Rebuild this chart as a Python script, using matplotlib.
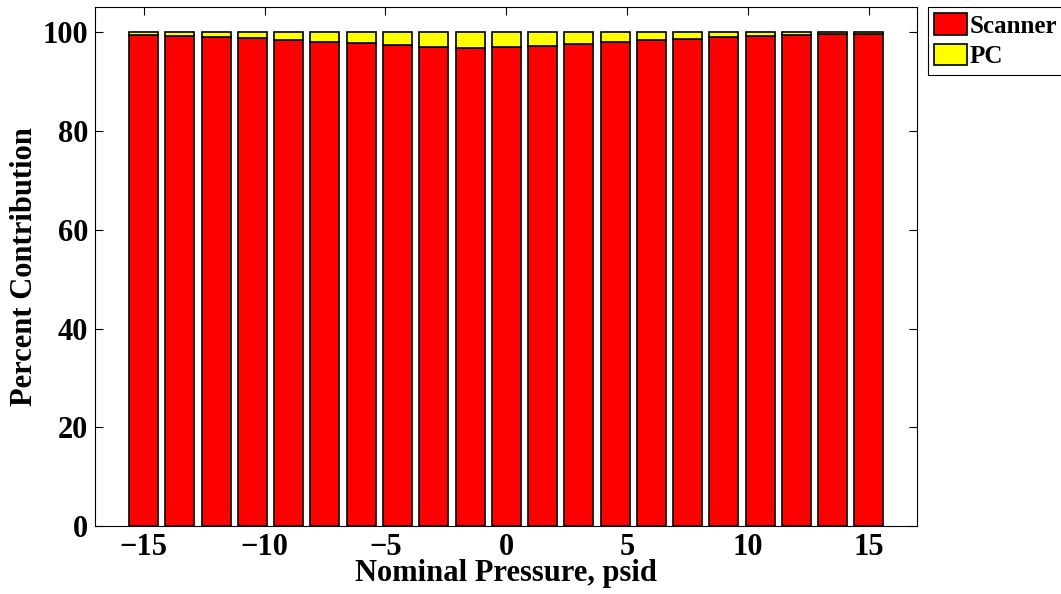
import matplotlib
matplotlib.use("Agg")
import matplotlib.pyplot as plt
import numpy as np

pressure = [-15, -13.5, -12, -10.5, -9, -7.5, -6, -4.5, -3, -1.5, 0,
            1.5, 3, 4.5, 6, 7.5, 9, 10.5, 12, 13.5, 15]
pc = [0.67, 0.81, 1.0, 1.28, 1.55, 1.96, 2.3, 2.7, 2.97, 3.17, 2.95,
      2.77, 2.36, 1.96, 1.62, 1.35, 1.08, 0.88, 0.6, 0.47, 0.34]
scanner = [100 - v for v in pc]
xticks = [-15, -10, -5, 0, 5, 10, 15]
yticks = [0, 20, 40, 60, 80, 100]

plt.rcParams['font.family'] = ['Liberation Serif', 'DejaVu Serif']
plt.rcParams['font.weight'] = 'bold'
plt.rcParams['mathtext.default'] = 'regular'

W, H = 1061, 594
fig = plt.figure(figsize=(W / 100, H / 100), dpi=100)
ax = fig.add_axes([95.3 / W, 1 - 526.3 / H, (917.3 - 95.3) / W, (526.3 - 7.3) / H])

bw = 1.5 * 0.8
b1 = ax.bar(pressure, scanner, width=bw, color='#ff0000', edgecolor='black',
            linewidth=1.2, label='Scanner', zorder=2)
b2 = ax.bar(pressure, pc, bottom=scanner, width=bw, color='#ffff00',
            edgecolor='black', linewidth=1.2, label='PC', zorder=2)

ax.set_xlim(-17, 17)
ax.set_ylim(0, 105)
ax.set_xticks(xticks)
ax.set_xticklabels(['\u2212' + str(abs(t)) if t < 0 else str(t) for t in xticks])
ax.set_yticks(yticks)
ax.tick_params(direction='in', length=6, width=0.8, labelsize=22, pad=5,
               top=True, right=True)
for lab in ax.get_xticklabels() + ax.get_yticklabels():
    lab.set_fontweight('bold')
for s in ax.spines.values():
    s.set_linewidth(0.8)

ax.set_xlabel('Nominal Pressure, psid', fontsize=22, fontweight='bold', labelpad=-2)
ax.set_ylabel('Percent Contribution', fontsize=22, fontweight='bold', labelpad=3)

leg = fig.legend(handles=[b1, b2], labels=['Scanner', 'PC'], loc='upper left',
                 bbox_to_anchor=(928 / W, 1 - 7 / H), borderaxespad=0,
                 prop={'size': 18, 'weight': 'bold'}, fancybox=False,
                 edgecolor='black', framealpha=1, handlelength=1.3,
                 handleheight=0.95, handletextpad=0.12, labelspacing=0.25,
                 borderpad=0.25)
leg.get_frame().set_linewidth(0.8)

fig.savefig('out.png', dpi=100)
